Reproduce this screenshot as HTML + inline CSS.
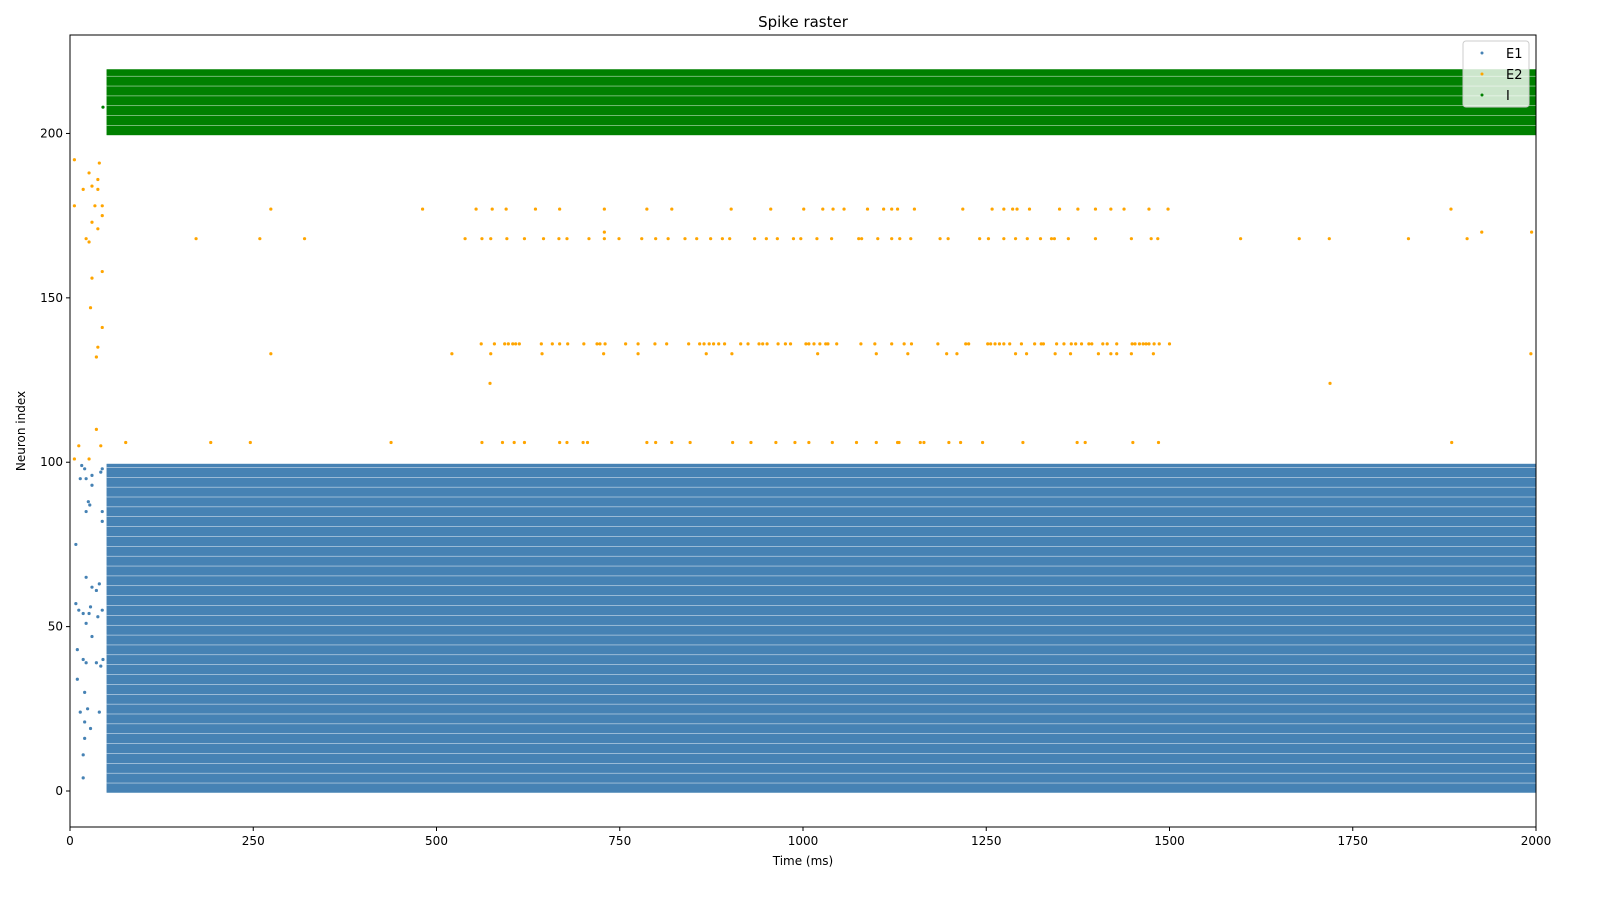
<!DOCTYPE html>
<html><head><meta charset="utf-8"><style>
html,body{margin:0;padding:0;background:#fff;overflow:hidden;width:1600px;height:900px}
svg{display:block}
svg text{font-family:"DejaVu Sans","Liberation Sans",sans-serif}
</style></head><body>
<svg id="chart" width="1600" height="900" viewBox="0 0 1600 900" xmlns="http://www.w3.org/2000/svg">
<rect width="1600" height="900" fill="#fff"/>
<text x="803" y="27" font-size="15" text-anchor="middle">Spike raster</text>
<g id="plot"></g>
<rect x="70" y="35" width="1466" height="792" fill="none" stroke="#000" stroke-width="1"/>
<g id="xt"></g>
<g id="yt"></g>
<text x="803" y="865" font-size="12" text-anchor="middle">Time (ms)</text>
<text x="25" y="431" font-size="12" text-anchor="middle" transform="rotate(-90 25 431)">Neuron index</text>
<g>
<rect x="1463" y="41" width="66" height="66" rx="3" fill="#fff" fill-opacity="0.8" stroke="#ccc"/>
<g><circle cx="1482" cy="53" r="1.5" fill="#4682b4"/><text x="1506" y="58" font-size="13">E1</text></g>
<g><circle cx="1482" cy="74" r="1.5" fill="#ffa500"/><text x="1506" y="79" font-size="13">E2</text></g>
<g><circle cx="1482" cy="95" r="1.5" fill="#008000"/><text x="1506" y="100" font-size="13">I</text></g>
</g>
</svg>
<script>
const xTicks=[0,250,500,750,1000,1250,1500,1750,2000];
const yTicks=[0,50,100,150,200];
const e1BlockStart=50, e1BlockEnd=2000, e1Count=100;
const iBlockStart=50, iBlockEnd=2000, iFirst=200, iCount=20;
const e1EarlyT=[16,20,14,22,30,42,25,27,22,30,8,22,30,36,40,8,12,18,26,28,22,30,38,10,18,22,36,42,10,20,14,24,40,20,28,20,18,18,45,44,44,44,44];
const e1EarlyN=[99,98,95,95,96,97,88,87,85,93,75,65,62,61,63,57,55,54,54,56,51,47,53,43,40,39,39,38,34,30,24,25,24,21,19,16,11,4,40,55,82,85,98];
const e2T=[6,40,18,30,38,26,38,6,34,44,44,30,38,22,26,30,44,28,44,38,36,36,42,12,6,26,
274,481,554,576,595,635,668,729,787,821,902,956,1001,1027,1041,1056,1088,1110,1121,1129,1152,1218,1258,1274,1286,1292,1309,1350,1375,1399,1420,1438,1472,1498,1884,
172,259,320,539,562,574,596,620,646,667,678,708,729,749,780,799,816,839,855,874,890,900,934,950,965,987,997,1019,1039,1076,1080,1102,1121,1132,1147,1187,1198,1241,1253,1274,1290,1306,1324,1339,1343,1362,1399,1448,1475,1484,1597,1677,1718,1826,1906,
729,1926,1994,
561,579,593,598,604,608,613,643,658,668,679,701,719,723,730,758,775,798,814,844,859,865,872,878,885,893,915,925,940,945,951,966,976,983,1004,1008,1015,1023,1031,1034,1046,1079,1098,1121,1138,1148,1184,1222,1226,1252,1256,1262,1268,1274,1282,1298,1316,1325,1328,1346,1356,1366,1372,1380,1390,1394,1409,1415,1428,1449,1453,1459,1464,1468,1472,1479,1486,1500,
274,521,574,644,728,775,868,903,1020,1100,1143,1196,1210,1290,1305,1344,1365,1403,1420,1428,1448,1478,1993,
573,1719,
76,192,246,438,562,590,606,620,668,678,700,706,787,799,821,846,904,929,963,989,1008,1040,1073,1100,1129,1131,1160,1165,1199,1215,1245,1300,1374,1385,1450,1485,1885];
const e2N=[192,191,183,184,183,188,186,178,178,178,175,173,171,168,167,156,158,147,141,135,132,110,105,105,101,101,
177,177,177,177,177,177,177,177,177,177,177,177,177,177,177,177,177,177,177,177,177,177,177,177,177,177,177,177,177,177,177,177,177,177,177,
168,168,168,168,168,168,168,168,168,168,168,168,168,168,168,168,168,168,168,168,168,168,168,168,168,168,168,168,168,168,168,168,168,168,168,168,168,168,168,168,168,168,168,168,168,168,168,168,168,168,168,168,168,168,168,
170,170,170,
136,136,136,136,136,136,136,136,136,136,136,136,136,136,136,136,136,136,136,136,136,136,136,136,136,136,136,136,136,136,136,136,136,136,136,136,136,136,136,136,136,136,136,136,136,136,136,136,136,136,136,136,136,136,136,136,136,136,136,136,136,136,136,136,136,136,136,136,136,136,136,136,136,136,136,136,136,136,
133,133,133,133,133,133,133,133,133,133,133,133,133,133,133,133,133,133,133,133,133,133,133,
124,124,
106,106,106,106,106,106,106,106,106,106,106,106,106,106,106,106,106,106,106,106,106,106,106,106,106,106,106,106,106,106,106,106,106,106,106,106,106];
const iEarlyT=[45];const iEarlyN=[208];

const X0=70,X1=1536,XMIN=0,XMAX=2000,YMIN=-10.95,YMAX=229.95,YT=35,YB=827;
const sx=t=>X0+(t-XMIN)/(XMAX-XMIN)*(X1-X0);
const sy=n=>YB-(n-YMIN)/(YMAX-YMIN)*(YB-YT);
const NS='http://www.w3.org/2000/svg';
const plot=document.getElementById('plot');
const unit=(YB-YT)/(YMAX-YMIN);
const gap=1;
function mk(tag,attrs,parent){const e=document.createElementNS(NS,tag);for(const k in attrs)e.setAttribute(k,attrs[k]);parent.appendChild(e);return e;}
function block(first,count,t0,t1,col,name){
  mk('rect',{x:sx(t0),y:sy(first+count-1)-unit/2,width:sx(t1)-sx(t0),height:count*unit,fill:col},plot);
  for(let k=0;k<count;k++){
    const n=first+k;
    const r=mk('rect',{x:sx(t0),y:sy(n)-unit/2,width:sx(t1)-sx(t0),height:unit,fill:col},plot);
    
    
    if(k%3===2&&k<count-1){mk('rect',{x:sx(t0),y:sy(n)-unit/2-gap/2,width:sx(t1)-sx(t0),height:gap,fill:'#fff','fill-opacity':0.9},plot);}
  }
}
block(0,e1Count,e1BlockStart,e1BlockEnd,'#4682b4','e1-neuron-row');
block(iFirst,iCount,iBlockStart,iBlockEnd,'#008000','i-neuron-row');
function dots(T,N,col,name){for(let i=0;i<T.length;i++){const c=mk('circle',{cx:sx(T[i]),cy:sy(N[i]),r:1.6,fill:col},plot);
  
  }}
dots(e1EarlyT,e1EarlyN,'#4682b4','e1-spike');
dots(e2T,e2N,'#ffa500','e2-spike');
dots(iEarlyT,iEarlyN,'#008000','i-spike');
const xt=document.getElementById('xt');
xTicks.forEach(v=>{const x=sx(v);mk('line',{x1:x,x2:x,y1:YB,y2:YB+4,stroke:'#000'},xt);
  const t=mk('text',{x:x,y:YB+18,'font-size':12,'text-anchor':'middle'},xt);t.textContent=v;
  
  });
const yt=document.getElementById('yt');
yTicks.forEach(v=>{const y=sy(v);mk('line',{x1:X0-4,x2:X0,y1:y,y2:y,stroke:'#000'},yt);
  const t=mk('text',{x:X0-7,y:y+4,'font-size':12,'text-anchor':'end'},yt);t.textContent=v;
  
  });
</script>
</body></html>
